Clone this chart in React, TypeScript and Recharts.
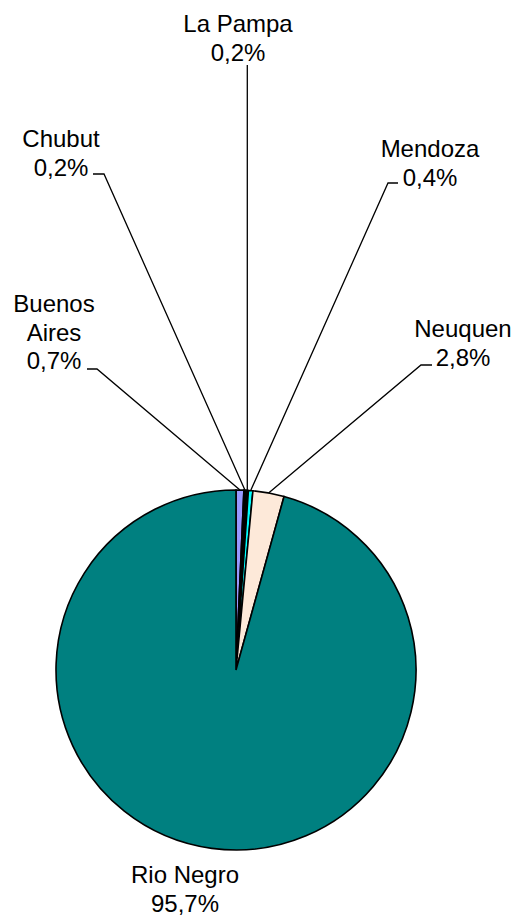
import React from 'react';
import { PieChart, Pie, Cell } from 'recharts';

const categories = ['Buenos Aires', 'Chubut', 'La Pampa', 'Mendoza', 'Neuquen', 'Rio Negro'];
const shares = [0.7, 0.2, 0.2, 0.4, 2.8, 95.7];
const colors = ['#9999FF', '#000000', '#000000', '#00FFFF', '#FDE9D9', '#008080'];

const data = categories.map((name, i) => ({ name, value: shares[i] }));

// label layout: text centre x, first baseline y, lines, optional leader elbow + end
type Layout = { x: number; y: number; lines: string[]; elbow?: [number, number]; end?: [number, number] };
const layout: Record<string, Layout> = {
  'Buenos Aires': { x: 54, y: 312, lines: ['Buenos', 'Aires'], elbow: [97, 369], end: [87, 369] },
  Chubut: { x: 61, y: 147, lines: ['Chubut'], elbow: [104, 174], end: [93, 174] },
  'La Pampa': { x: 238, y: 32, lines: ['La Pampa'], elbow: [247.3, 65] },
  Mendoza: { x: 430, y: 157, lines: ['Mendoza'], elbow: [388, 183], end: [398, 183] },
  Neuquen: { x: 463, y: 337, lines: ['Neuquen'], elbow: [421, 365], end: [432, 365] },
  'Rio Negro': { x: 185, y: 883, lines: ['Rio Negro'] },
};

const LH = 28.5;
const RAD = Math.PI / 180;
const fmt = (v: number) => v.toFixed(1).replace('.', ',') + '%';

const renderLabel = (props: any) => {
  const { cx, cy, midAngle, outerRadius, name, value } = props;
  const L = layout[name];
  if (!L) return null;
  const px = cx + outerRadius * Math.cos(-midAngle * RAD);
  const py = cy + outerRadius * Math.sin(-midAngle * RAD);
  const lines = [...L.lines, fmt(value)];
  let d = '';
  if (L.elbow) {
    d = `M${px},${py} L${L.elbow[0]},${L.elbow[1]}`;
    if (L.end) d += ` L${L.end[0]},${L.end[1]}`;
  }
  return (
    <g key={name}>
      {d && <path d={d} stroke="#000" strokeWidth={1.3} fill="none" />}
      <text
        textAnchor="middle"
        fontFamily="'Liberation Sans', Arial, sans-serif"
        fontSize={24}
        fill="#000"
      >
        {lines.map((t, i) => (
          <tspan key={i} x={L.x} y={L.y + i * LH}>
            {t}
          </tspan>
        ))}
      </text>
    </g>
  );
};

export default function App() {
  return (
    <div style={{ position: 'absolute', left: 0, top: 0, background: '#fff' }}>
      <PieChart width={518} height={915} margin={{ top: 0, right: 0, bottom: 0, left: 0 }}>
        <Pie
          data={data}
          dataKey="value"
          nameKey="name"
          cx={236}
          cy={670}
          outerRadius={180}
          startAngle={90}
          endAngle={-270}
          stroke="#000"
          strokeWidth={1.6}
          label={renderLabel}
          labelLine={false}
          isAnimationActive={false}
        >
          {data.map((d, i) => (
            <Cell key={d.name} fill={colors[i]} />
          ))}
        </Pie>
      </PieChart>
    </div>
  );
}
